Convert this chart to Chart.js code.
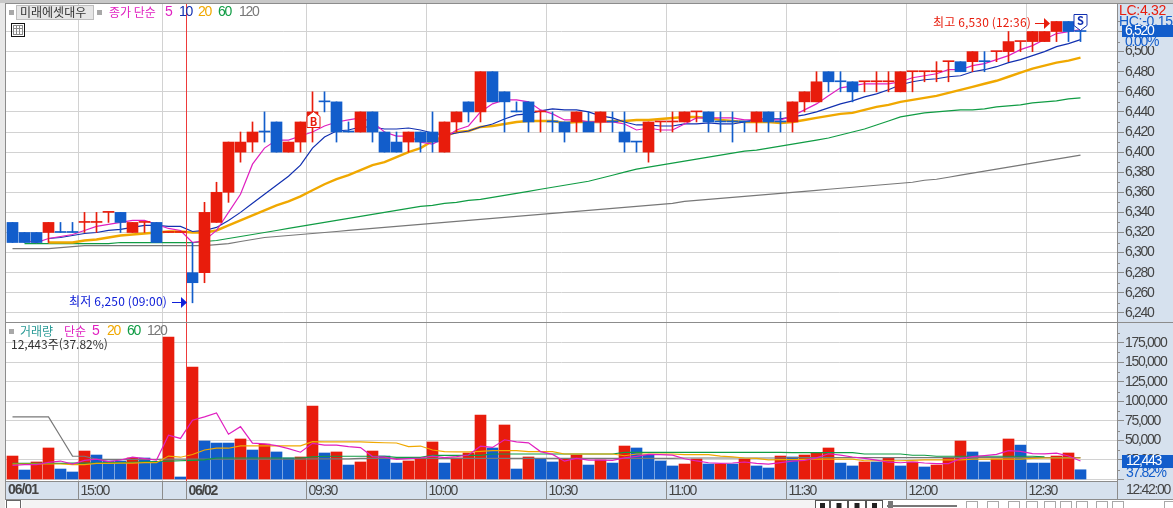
<!DOCTYPE html>
<html lang="ko">
<head>
<meta charset="utf-8">
<title>미래에셋대우 분봉</title>
<style>
html,body{margin:0;padding:0;background:#fff;overflow:hidden}
canvas{display:block}
</style>
<script src="https://cdn.jsdelivr.net/npm/chart.js@4"></script>
</head>
<body>
<canvas id="chart" width="1173" height="508"></canvas>
<script>
// Intraday candles, one entry per bar
const opens = [6330,6320,6320,6320,6320,6320,6330,6330,6340,6340,6320,6330,6330,6320,6320,6280,6280,6330,6360,6400,6410,6420,6430,6400,6410,6430,6450,6450,6420,6420,6440,6420,6410,6410,6420,6420,6400,6430,6450,6440,6480,6460,6440,6450,6440,6430,6430,6430,6430,6430,6430,6420,6410,6400,6430,6430,6430,6440,6440,6430,6430,6430,6430,6440,6430,6430,6450,6450,6480,6470,6470,6470,6470,6470,6460,6480,6480,6480,6490,6490,6490,6490,6500,6500,6510,6510,6510,6520,6530,6520];
const closes = [6310,6310,6310,6330,6320,6320,6330,6330,6340,6330,6330,6330,6310,6320,6320,6270,6340,6360,6410,6410,6420,6420,6400,6410,6430,6440,6450,6420,6420,6440,6420,6400,6400,6420,6410,6410,6430,6440,6440,6480,6450,6450,6440,6430,6440,6430,6420,6440,6420,6440,6430,6410,6410,6430,6430,6430,6440,6440,6430,6430,6430,6430,6440,6430,6430,6450,6460,6470,6470,6470,6460,6470,6470,6470,6480,6480,6480,6480,6490,6480,6500,6490,6500,6510,6510,6520,6520,6530,6520,6520];
const highs = [6330,6320,6320,6330,6330,6330,6340,6340,6340,6340,6330,6330,6330,6320,6320,6310,6350,6370,6410,6420,6430,6440,6430,6410,6430,6460,6460,6450,6430,6440,6440,6420,6420,6420,6420,6440,6430,6440,6450,6480,6480,6460,6450,6450,6440,6440,6430,6440,6440,6440,6440,6440,6410,6430,6430,6440,6440,6440,6440,6440,6440,6430,6440,6440,6440,6450,6460,6480,6480,6480,6470,6470,6480,6480,6480,6480,6480,6490,6490,6490,6500,6500,6500,6520,6510,6520,6520,6530,6530,6530];
const lows = [6310,6310,6310,6310,6320,6320,6320,6320,6330,6320,6320,6320,6310,6320,6320,6250,6270,6330,6350,6390,6400,6410,6400,6400,6400,6410,6440,6410,6420,6420,6410,6400,6400,6400,6400,6400,6400,6420,6430,6430,6450,6420,6440,6420,6420,6420,6410,6420,6430,6420,6420,6400,6400,6390,6420,6420,6430,6430,6420,6420,6410,6420,6420,6420,6420,6420,6440,6450,6460,6460,6450,6460,6460,6460,6460,6460,6470,6470,6470,6480,6480,6480,6490,6490,6500,6500,6510,6510,6510,6510];

// Moving averages of the close
const ma5 = [null,6312,6310,6314,6316,6318,6322,6326,6328,6330,6332,6332,6328,6324,6322,6310,6312,6322,6340,6358,6388,6404,6412,6412,6416,6420,6426,6430,6432,6434,6430,6420,6416,6416,6410,6408,6414,6422,6426,6440,6448,6452,6452,6450,6442,6438,6432,6432,6430,6430,6430,6428,6422,6424,6422,6422,6428,6434,6434,6434,6434,6432,6432,6432,6432,6436,6442,6448,6456,6464,6466,6468,6468,6468,6470,6474,6476,6478,6482,6482,6486,6488,6492,6496,6502,6506,6512,6518,6520,6522];
const ma10 = [null,null,null,6314,6315,6317,6319,6320,6322,6323,6325,6327,6327,6326,6326,6321,6322,6325,6332,6340,6349,6358,6367,6376,6387,6404,6415,6421,6422,6425,6425,6423,6423,6424,6422,6419,6417,6419,6421,6425,6428,6433,6437,6438,6441,6443,6442,6442,6440,6436,6434,6430,6427,6427,6426,6426,6428,6428,6429,6428,6428,6430,6433,6433,6433,6435,6437,6440,6444,6448,6451,6455,6458,6462,6467,6470,6472,6473,6475,6476,6480,6482,6485,6489,6492,6496,6500,6505,6508,6512];
const ma20 = [null,null,null,6310,6310,6310,6312,6313,6315,6317,6318,6319,6320,6321,6321,6320,6320,6322,6327,6332,6337,6342,6347,6351,6356,6362,6368,6373,6377,6382,6387,6390,6395,6400,6404,6411,6416,6420,6421,6425,6426,6428,6430,6431,6431,6431,6429,6430,6430,6430,6431,6431,6432,6432,6433,6434,6435,6435,6434,6432,6431,6430,6430,6430,6429,6430,6432,6434,6436,6438,6439,6442,6445,6447,6450,6452,6454,6456,6459,6462,6465,6468,6471,6475,6479,6483,6486,6489,6491,6494];
const ma60 = [null,6309,6309,6309,6309,6309,6309,6309,6309,6310,6310,6310,6310,6310,6310,6310,6311,6312,6314,6316,6318,6320,6322,6324,6326,6328,6330,6332,6334,6336,6338,6340,6342,6344,6346,6347,6349,6350,6352,6353,6355,6357,6359,6361,6363,6365,6367,6369,6371,6374,6377,6380,6383,6385,6387,6389,6391,6393,6395,6397,6399,6401,6402,6404,6406,6408,6410,6412,6414,6417,6420,6423,6427,6431,6435,6437,6439,6440,6441,6442,6442,6443,6445,6446,6447,6449,6450,6451,6453,6454];
const ma120 = [6304,6304,6304,6304,6305,6306,6307,6307,6307,6307,6307,6307,6307,6307,6307,6307,6307,6308,6309,6311,6313,6315,6316,6317,6318,6319,6320,6321,6322,6323,6324,6325,6326,6327,6328,6329,6330,6331,6332,6333,6334,6335,6336,6337,6338,6339,6340,6341,6342,6343,6344,6345,6346,6347,6348,6349,6351,6352,6353,6354,6355,6356,6357,6358,6359,6360,6361,6362,6363,6364,6365,6366,6367,6368,6369,6370,6372,6373,6375,6377,6379,6381,6383,6385,6387,6389,6391,6393,6395,6397];

// Traded volume per bar and its direction (1 = up bar, 0 = down bar)
const volumes = [30000,12100,22400,40300,13400,9600,36400,31300,23700,23700,27500,27500,22400,182000,3200,143900,49200,46600,46600,51800,37700,45300,35200,27500,28800,94000,33900,35200,18500,22400,36400,30000,21000,23700,26200,48000,21000,27500,33900,82500,40300,69700,13400,28800,26200,22400,26200,31300,18500,24900,21000,42800,40300,31300,23700,17300,19800,26200,19800,19800,19800,26200,17300,14700,30000,28800,31300,33900,40300,21000,17300,22400,22400,27500,17300,22400,16000,18500,27500,49200,35200,22400,26200,51800,44000,21000,21000,30000,33900,12443];
const volumeUp = [1,0,1,1,0,0,1,0,0,0,1,0,0,1,0,1,0,0,0,1,0,1,0,0,1,1,0,1,0,1,1,0,0,1,1,1,0,1,1,1,0,1,0,1,0,0,1,1,0,1,0,1,0,0,0,0,1,1,0,1,0,1,0,0,1,0,1,1,1,0,0,1,0,1,0,1,0,1,1,1,0,0,1,1,0,0,0,1,1,0];
const volMa5 = [18000,19000,19000,22000,23600,19600,24400,26100,22900,24900,28500,26700,24900,56600,52500,75800,80100,85000,57900,67600,46400,45600,43300,39500,34900,46200,43900,43900,42100,40800,29300,28500,25700,26700,27500,29800,28000,29300,31300,42600,41000,50800,48000,46900,35700,32100,23400,27000,24900,24700,24400,27700,29500,32100,31800,31100,26500,23700,21400,20600,21100,22400,20600,19600,21600,23400,24400,27700,32900,31100,28800,27000,24700,22100,21400,22400,21100,20300,20300,26700,29300,30600,32100,37000,35900,33100,32800,33600,30000,23700];
const volMa20 = [19800,19800,19800,19800,19800,19000,19000,20500,20500,21000,21000,21500,21500,30000,28500,32000,37700,40000,40000,43000,43000,43000,43000,43000,43000,48400,48000,48000,48000,48000,47500,47000,46700,42000,42800,37700,35600,35200,35200,36000,36800,36800,36800,35600,35600,35600,32600,32600,32600,32600,32600,30400,32600,32600,32600,32600,31700,31700,31700,30000,29000,27500,27000,25000,25500,25500,25800,26000,26000,26000,26000,24000,24000,24000,24000,24500,25000,25000,25000,25000,26000,26000,26000,26000,26000,27000,27500,27500,27500,27500];
const volMa60 = [20700,20700,20700,20700,20700,21000,21000,21000,21500,21500,22000,22500,23000,23500,24000,24500,25000,27500,27500,27500,27500,27500,27500,27500,27500,29000,29700,29700,29700,29700,29700,29700,28400,28400,28400,30900,30900,30900,30900,30900,32600,32600,32600,32600,32600,32600,32600,32600,32600,32600,32600,34800,34800,34800,34800,34800,34800,34800,34800,34800,34800,34800,34800,34800,34800,34300,34300,34300,34300,34300,34300,32600,32600,32600,32600,31000,31000,29700,29700,29700,29700,29700,29700,29700,29700,29700,29000,null,null,null];
const volMa120 = [80000,80000,80000,80000,55000,30000,29700,25800,25800,25800,25800,25800,25800,26000,26000,26000,26000,26000,26000,26000,26000,26000,26000,26000,26000,26500,26500,26500,26500,27000,27000,27000,27000,27000,27000,27000,27000,27000,27000,27000,27000,27000,27000,27000,27000,27000,27000,27000,27000,27000,27000,27000,27000,27000,27000,27000,27500,27500,27500,27500,27500,27500,27500,27500,27500,28000,28000,28000,28000,28000,28000,28000,28000,28000,28000,28000,28000,28000,28000,28000,28000,28000,28000,28000,28000,28000,28000,28000,28000,28000];

// Axis ticks and the labelled session marks on the time axis
const priceTicks = [6240,6260,6280,6300,6320,6340,6360,6380,6400,6420,6440,6460,6480,6500,6520];
const volumeTicks = [0,25000,50000,75000,100000,125000,150000,175000];
const timeMarks = [[6,'15:00'],[13,''],[15,'06/02'],[25,'09:30'],[35,'10:00'],[45,'10:30'],[55,'11:00'],[65,'11:30'],[75,'12:00'],[85,'12:30']];
const firstDateLabel = '06/01';
const lastTimeLabel = '12:42:00';

// Flagged bars
const lowBar = 15, lowPrice = 6250, highBar = 87, highPrice = 6530, buyBar = 25, buyPrice = 6430, sellBar = 89, sellPrice = 6528;

const RED = '#e81c0c', BLUE = '#125dcb', MAGENTA = '#e020c0', NAVY = '#1230b0', ORANGE = '#f0a800', GREEN = '#109c44', GREY = '#787878';
const BAND = '#d6e1ee', GRID = '#d2d2d2', FRAME = '#8c8c8c', INK = '#444444';
const NARROW = '"Liberation Sans",sans-serif';
const CJK = '"Noto Sans CJK KR","Noto Sans",sans-serif';
const DIGIT_SPACING = '-1.3px';
const DIGIT_SIZE = 14;

const points = values => values.map((y, x) => ({x, y}));
const lineSet = (label, data, color, width, yAxisID, order) => ({
  type: 'line', label, data: points(data), borderColor: color, borderWidth: width,
  pointRadius: 0, tension: 0, spanGaps: false, yAxisID, order
});
const barSet = (label, data, colors, thickness, yAxisID, order, extra) => Object.assign({
  type: 'bar', label, data: data.map((y, x) => ({x, y})), backgroundColor: colors,
  barThickness: thickness, grouped: false, borderWidth: 0, yAxisID, order
}, extra);

const candleColors = closes.map((c, i) => {
  if (c > opens[i]) return RED;
  if (c < opens[i]) return BLUE;
  return [6,7,8,11,13,14,44,54,55,57,71,72,73,75,76,77,78,82,84].includes(i) ? RED : BLUE;
});

function text(ctx, str, x, y, color, font, spacing) {
  ctx.font = font;
  ctx.letterSpacing = spacing || '0px';
  ctx.fillStyle = color;
  ctx.textAlign = 'left';
  ctx.textBaseline = 'middle';
  ctx.fillText(str, x, y);
  ctx.letterSpacing = '0px';
}

function minorTicks(ctx, scale, values) {
  ctx.strokeStyle = FRAME;
  ctx.lineWidth = 1;
  values.forEach(v => {
    const y = Math.round(scale.getPixelForValue(v)) + 0.5;
    ctx.beginPath();
    ctx.moveTo(1117, y);
    ctx.lineTo(1120, y);
    ctx.stroke();
  });
}

function arrow(ctx, x, y, color) {
  ctx.strokeStyle = color;
  ctx.fillStyle = color;
  ctx.lineWidth = 1;
  ctx.beginPath();
  ctx.moveTo(x - 15, y + 0.5);
  ctx.lineTo(x - 5, y + 0.5);
  ctx.stroke();
  ctx.beginPath();
  ctx.moveTo(x - 6, y - 5);
  ctx.lineTo(x, y + 0.5);
  ctx.lineTo(x - 6, y + 6);
  ctx.closePath();
  ctx.fill();
}

// Pentagon flag with the tip pointing at the bar
function flag(ctx, cx, top, bottom, color, tipDown, letter) {
  const half = 6.5, shoulder = 5;
  ctx.beginPath();
  if (tipDown) {
    ctx.moveTo(cx - half, top); ctx.lineTo(cx + half, top);
    ctx.lineTo(cx + half, bottom - shoulder); ctx.lineTo(cx, bottom);
    ctx.lineTo(cx - half, bottom - shoulder);
  } else {
    ctx.moveTo(cx, top); ctx.lineTo(cx + half, top + shoulder);
    ctx.lineTo(cx + half, bottom); ctx.lineTo(cx - half, bottom);
    ctx.lineTo(cx - half, top + shoulder);
  }
  ctx.closePath();
  ctx.fillStyle = '#ffffff';
  ctx.fill();
  ctx.strokeStyle = color;
  ctx.lineWidth = 1;
  ctx.stroke();
  ctx.font = 'bold 11px ' + CJK;
  ctx.fillStyle = color;
  ctx.textAlign = 'center';
  ctx.textBaseline = 'middle';
  ctx.fillText(letter, cx, (top + bottom) / 2 + (tipDown ? -2 : 2));
}

const chrome = {
  id: 'chrome',
  beforeDraw(chart) {
    const ctx = chart.ctx, a = chart.chartArea;
    ctx.save();
    ctx.fillStyle = '#ffffff';
    ctx.fillRect(0, 0, 1173, 508);
    ctx.fillStyle = '#e8e8e8';
    ctx.fillRect(0, 0, 5, 508);
    ctx.fillStyle = '#c8c8c8';
    ctx.fillRect(0, 0, 1173, 3);
    ctx.fillStyle = BAND;
    ctx.fillRect(a.right, 3, 1173 - a.right, a.bottom - 3);
    ctx.fillRect(5, a.bottom, 1168, 19);
    ctx.restore();
    // axis numerals are set tighter than the face's default pitch
    ctx.letterSpacing = DIGIT_SPACING;
  },
  afterDatasetsDraw(chart) {
    const ctx = chart.ctx, a = chart.chartArea, x = chart.scales.x;
    ctx.save();
    ctx.strokeStyle = '#ee3a3a';
    ctx.lineWidth = 1;
    const vx = x.getPixelForValue(lowBar - 0.5);
    ctx.beginPath();
    ctx.moveTo(vx, a.top);
    ctx.lineTo(vx, a.bottom);
    ctx.stroke();
    ctx.restore();
  },
  afterDraw(chart) {
    const ctx = chart.ctx, a = chart.chartArea, x = chart.scales.x, yP = chart.scales.y, yV = chart.scales.yVolume;
    const digits = DIGIT_SIZE + 'px ' + NARROW;
    ctx.save();
    ctx.letterSpacing = '0px';

    // outer frame and the divider between the two panels
    ctx.strokeStyle = FRAME;
    ctx.lineWidth = 1;
    [[5.5, 3, 5.5, 500], [5, 3.5, 1173, 3.5], [5, 322.5, 1173, 322.5], [5, 499.5, 1173, 499.5], [1117.5, 481, 1117.5, 500]].forEach(l => {
      ctx.beginPath(); ctx.moveTo(l[0], l[1]); ctx.lineTo(l[2], l[3]); ctx.stroke();
    });

    minorTicks(ctx, yP, priceTicks.map(v => v + 10));
    minorTicks(ctx, yV, volumeTicks.map(v => v + 12500));

    // price panel header
    ctx.fillStyle = '#a8a8a8';
    ctx.fillRect(9, 10, 5, 5);
    ctx.fillRect(97, 10, 5, 5);
    ctx.fillStyle = '#e6e6e6';
    ctx.fillRect(16, 5, 78, 15);
    ctx.strokeStyle = '#bdbdbd';
    ctx.strokeRect(16.5, 5.5, 77, 14);
    text(ctx, '미래에셋대우', 20, 12.5, '#333333', '12px ' + CJK);
    text(ctx, '종가 단순', 109, 12.5, MAGENTA, '12px ' + CJK);
    text(ctx, '5', 165, 12.5, MAGENTA, digits);
    text(ctx, '10', 179, 12.5, NAVY, digits, DIGIT_SPACING);
    text(ctx, '20', 198, 12.5, ORANGE, digits, DIGIT_SPACING);
    text(ctx, '60', 218, 12.5, GREEN, digits, DIGIT_SPACING);
    text(ctx, '120', 239, 12.5, GREY, digits, DIGIT_SPACING);

    // small table button
    ctx.strokeStyle = '#111111';
    ctx.strokeRect(11.5, 23.5, 13, 13);
    ctx.strokeStyle = '#8a8a8a';
    ctx.strokeRect(13.5, 25.5, 9, 9);
    ctx.beginPath();
    ctx.moveTo(16.5, 25); ctx.lineTo(16.5, 35);
    ctx.moveTo(19.5, 25); ctx.lineTo(19.5, 35);
    ctx.moveTo(13, 28.5); ctx.lineTo(23, 28.5);
    ctx.stroke();

    // volume panel header
    ctx.fillStyle = '#a8a8a8';
    ctx.fillRect(9, 329, 5, 5);
    text(ctx, '거래량', 20, 331, '#2a9a96', '12px ' + CJK);
    text(ctx, '단순', 64, 331, MAGENTA, '12px ' + CJK);
    text(ctx, '5', 92, 331, MAGENTA, digits);
    text(ctx, '20', 107, 331, ORANGE, digits, DIGIT_SPACING);
    text(ctx, '60', 127, 331, GREEN, digits, DIGIT_SPACING);
    text(ctx, '120', 147, 331, GREY, digits, DIGIT_SPACING);
    text(ctx, '12,443주(37.82%)', 11, 344, '#333333', '12px ' + CJK);

    // extreme price callouts
    const lowX = x.getPixelForValue(lowBar), lowY = Math.round(yP.getPixelForValue(lowPrice)) - 1;
    arrow(ctx, lowX - 5.5, lowY, '#1020d8');
    text(ctx, '최저 6,250 (09:00)', 69, lowY - 1, '#1020d8', '12px ' + CJK, '0.15px');
    const highX = x.getPixelForValue(highBar), highY = Math.round(yP.getPixelForValue(highPrice)) + 2;
    arrow(ctx, highX - 6.5, highY, RED);
    text(ctx, '최고 6,530 (12:36)', 933, highY - 1, RED, '12px ' + CJK, '0.15px');

    // trade flags
    const buyX = Math.round(x.getPixelForValue(buyBar)) + 0.5;
    const buyY = Math.round(yP.getPixelForValue(buyPrice));
    flag(ctx, buyX, buyY - 10.5, buyY + 5.5, RED, false, 'B');
    const sellX = Math.round(x.getPixelForValue(sellBar)) + 0.5;
    const sellY = Math.round(yP.getPixelForValue(sellPrice));
    flag(ctx, sellX, sellY - 8.5, sellY + 7.5, NAVY, true, 'S');

    // right axis read-outs
    text(ctx, 'LC:4.32', 1119, 11, RED, '14px ' + NARROW, '-0.3px');
    text(ctx, 'HC:-0.15', 1119, 22, BLUE, '14px ' + NARROW, '-0.3px');
    ctx.fillStyle = BAND;
    ctx.fillRect(1123, 37, 50, 9);
    ctx.fillStyle = BLUE;
    ctx.fillRect(1122, 25, 51, 12);
    text(ctx, '6,520', 1125, 31, '#ffffff', digits, DIGIT_SPACING);
    text(ctx, '0.00%', 1125, 42, BLUE, digits, DIGIT_SPACING);

    ctx.fillStyle = BLUE;
    ctx.fillRect(1122, 455, 51, 13);
    text(ctx, '12,443', 1126, 461.5, '#ffffff', digits, DIGIT_SPACING);
    ctx.fillStyle = BAND;
    ctx.fillRect(1122, 468, 51, 11);
    text(ctx, '37.82%', 1126, 473.5, BLUE, digits, DIGIT_SPACING);

    // time axis end labels
    text(ctx, firstDateLabel, 8, 490.5, INK, 'bold 14px ' + NARROW, '-1px');
    text(ctx, lastTimeLabel, 1126, 490.5, INK, digits, DIGIT_SPACING);

    // toolbar strip along the bottom edge
    ctx.fillStyle = '#f4f4f4';
    ctx.fillRect(22, 500, 793, 8);
    ctx.fillStyle = '#ffffff';
    ctx.fillRect(815, 500, 358, 8);
    ctx.strokeStyle = '#666666';
    ctx.strokeRect(6.5, 500.5, 14, 9);
    [[815, 14], [830, 17], [848, 17], [866, 16]].forEach(b => {
      ctx.strokeStyle = '#555555';
      ctx.strokeRect(b[0] + 0.5, 500.5, b[1], 9);
      ctx.fillStyle = '#222222';
      ctx.fillRect(b[0] + b[1] / 2 - 2, 503, 5, 5);
    });
    ctx.fillStyle = '#777777';
    ctx.fillRect(887, 505, 70, 2);
    ctx.fillRect(888, 501, 5, 7);
    ctx.strokeStyle = '#a8a8a8';
    [966, 987, 1008, 1026, 1044, 1060, 1076, 1096, 1112, 1164].forEach(ix => {
      ctx.strokeRect(ix + 0.5, 501.5, 11, 8);
    });

    ctx.restore();
  }
};

new Chart(document.getElementById('chart').getContext('2d'), {
  type: 'bar',
  plugins: [chrome],
  data: {
    datasets: [
      barSet('봉', opens.map((o, i) => [o, closes[i]]), candleColors, 11, 'y', 1, {minBarLength: 1, borderSkipped: false}),
      barSet('꼬리', lows.map((l, i) => [l, highs[i]]), candleColors, 1, 'y', 2, {borderSkipped: false}),
      lineSet('종가 단순 5', ma5, MAGENTA, 1.2, 'y', 3),
      lineSet('종가 단순 10', ma10, NAVY, 1.2, 'y', 3),
      lineSet('종가 단순 20', ma20, ORANGE, 2.4, 'y', 3),
      lineSet('종가 단순 60', ma60, GREEN, 1.2, 'y', 3),
      lineSet('종가 단순 120', ma120, GREY, 1.2, 'y', 3),
      lineSet('거래량 단순 5', volMa5, MAGENTA, 1.2, 'yVolume', 0),
      lineSet('거래량 단순 20', volMa20, ORANGE, 1.2, 'yVolume', 0),
      lineSet('거래량 단순 60', volMa60, GREEN, 1.2, 'yVolume', 0),
      lineSet('거래량 단순 120', volMa120, GREY, 1.2, 'yVolume', 0),
      barSet('거래량', volumes, volumeUp.map(u => u ? RED : BLUE), 11, 'yVolume', 5, {})
    ]
  },
  options: {
    responsive: false,
    animation: false,
    devicePixelRatio: 1,
    layout: {padding: {left: 6, top: 3, right: 0, bottom: 8}},
    plugins: {legend: {display: false}, title: {display: false}, tooltip: {enabled: false}},
    scales: {
      x: {
        type: 'linear',
        offset: false,
        min: -0.5417,
        max: 92.0417,
        afterBuildTicks(s) { s.ticks = timeMarks.map(m => ({value: m[0] - 0.5})); },
        afterFit(s) { s.height = 19; s.paddingLeft = 0; s.paddingRight = 0; },
        border: {color: FRAME},
        grid: {offset: false, color: GRID, tickColor: FRAME, tickLength: 19},
        ticks: {
          autoSkip: false,
          maxRotation: 0,
          align: 'start',
          padding: -17,
          labelOffset: 2,
          color: INK,
          font: c => (c.tick && c.tick.label === '06/02') ? {family: NARROW, size: 14, weight: 'bold'} : {family: NARROW, size: DIGIT_SIZE},
          callback: v => {
            const m = timeMarks.find(t => t[0] - 0.5 === v);
            return m ? m[1] : '';
          }
        }
      },
      y: {
        type: 'linear',
        position: 'right',
        stack: 'panels',
        stackWeight: 319,
        min: 6230.9,
        max: 6548.4,
        afterBuildTicks(s) { s.ticks = priceTicks.map(value => ({value})); },
        afterFit(s) { s.width = 56; s.paddingTop = 0; s.paddingBottom = 0; },
        border: {color: FRAME},
        grid: {color: GRID, tickColor: FRAME, tickLength: 7},
        ticks: {
          autoSkip: false, padding: 1, color: INK,
          font: {family: NARROW, size: DIGIT_SIZE},
          callback: v => v.toLocaleString('en-US')
        }
      },
      yVolume: {
        type: 'linear',
        position: 'right',
        stack: 'panels',
        stackWeight: 159,
        offset: false,
        min: -1918,
        max: 201400,
        afterBuildTicks(s) { s.ticks = volumeTicks.map(value => ({value})); },
        afterFit(s) { s.width = 56; s.paddingTop = 0; s.paddingBottom = 0; },
        border: {color: FRAME},
        grid: {color: GRID, tickColor: FRAME, tickLength: 7},
        ticks: {
          autoSkip: false, padding: 1, color: INK,
          font: {family: NARROW, size: DIGIT_SIZE},
          callback: v => v === 0 ? '' : v.toLocaleString('en-US')
        }
      }
    }
  }
});
</script>
</body>
</html>
